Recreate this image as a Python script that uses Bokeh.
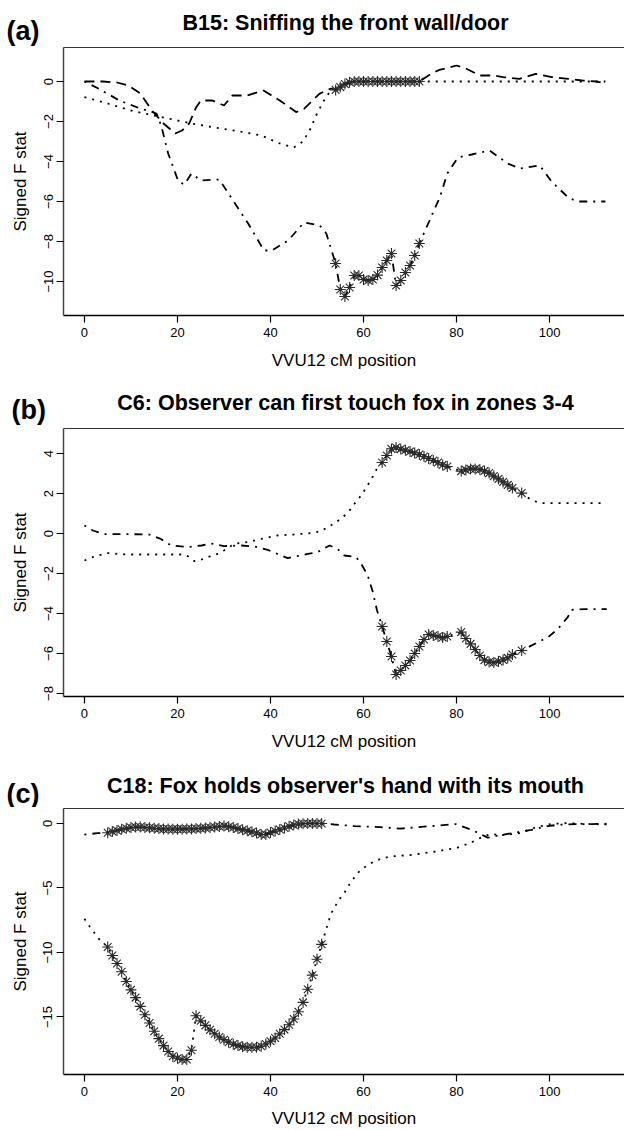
from bokeh.plotting import figure
from bokeh.models import Range1d, LinearAxis, FixedTicker
from bokeh.core.properties import value
from bokeh.layouts import column
from bokeh.embed import file_html
from bokeh.resources import INLINE

FONT = "Liberation Sans"

# ---------------- data ----------------
X_TICKS = [0, 20, 40, 60, 80, 100]
X_LABEL = "VVU12 cM position"
Y_LABEL = "Signed F stat"

TITLE_A = "B15: Sniffing the front wall/door"
TITLE_B = "C6: Observer can first touch fox in zones 3-4"
TITLE_C = "C18: Fox holds observer's hand with its mouth"

# Panel (a)
A_dash_x = [0, 4, 7, 9.5, 12, 14.5, 17, 19.5, 21, 22.5, 24, 25, 27.5, 30, 31.8, 35, 38.5, 42, 45.5, 47.2,
            50.5, 52, 53, 54, 55, 56, 57, 58, 59, 60, 61, 62, 63, 64, 65, 66, 67, 68, 69, 70, 71, 72,
            74.5, 76.3, 80, 82, 85, 88, 90, 93.5, 97, 100.5, 104, 107, 110, 112]
A_dash_y = [0, 0, -0.05, -0.2, -0.6, -1.45, -2.1, -2.6, -2.45, -2.1, -1.3, -0.95, -0.95, -1.2, -0.7, -0.7,
            -0.45, -0.95, -1.53, -1.37, -0.62, -0.45, -0.35, -0.42, -0.28, -0.13, -0.04, 0, 0, 0, 0, 0, 0,
            0, 0, 0, 0, 0, 0, 0, 0, 0, 0.38, 0.58, 0.8, 0.65, 0.3, 0.3, 0.22, 0.13, 0.38, 0.22, 0.13, 0.05,
            0.0, -0.08]
A_dash_stars = list(range(54, 73))

A_dot_x = [0, 5, 10, 15, 20, 23, 28, 33.5, 38, 42, 45, 47, 48.5, 50, 51.5, 52.5, 54.5, 56, 57, 112]
A_dot_y = [-0.78, -1.1, -1.45, -1.7, -1.95, -2.1, -2.3, -2.5, -2.7, -3.1, -3.3, -3.0, -2.4, -1.6, -0.95,
           -0.6, -0.3, -0.05, 0, 0]
A_dot_stars = []

A_dd_x = [0, 3, 7.5, 12, 15.5, 16.5, 18, 20.2, 21.5, 23, 25, 29, 31.8, 35.2, 38.6, 40.3, 43.8, 47.2, 50.6,
          52, 53.2, 54, 55, 56, 57, 58, 59, 60, 61, 62, 63, 64, 65, 66, 67, 68, 69, 70, 71, 72, 74.2, 75.2,
          76.4, 78, 80.3, 83.3, 87.1, 91, 93.6, 97.9, 100.4, 104, 106, 112]
A_dd_y = [0, -0.35, -0.95, -1.35, -1.6, -2.2, -3.6, -5.0, -5.15, -4.6, -4.95, -4.9, -5.9, -7.1, -8.45,
          -8.45, -7.95, -7.05, -7.2, -7.6, -8.5, -9.1, -10.4, -10.75, -10.3, -9.7, -9.7, -9.9, -9.95, -9.9,
          -9.68, -9.3, -8.95, -8.6, -10.2, -9.95, -9.55, -9.2, -8.7, -8.1, -6.95, -6.4, -5.8, -4.6, -3.8,
          -3.65, -3.45, -4.1, -4.35, -4.2, -5.0, -5.8, -6.0, -6.0]
A_dd_stars = list(range(54, 73))

# Panel (b)
B_dot_x = [0, 1.8, 3.5, 5, 9, 14, 21, 22.2, 23.6, 25, 26.5, 28.6, 30, 32.2, 35, 38, 41.5, 45, 48.7, 50.9,
           52.3, 53.3, 54.9, 56.2, 57.3, 58.4, 59.5, 60.4, 61.3, 62.2, 63, 64, 65, 66, 67, 68, 69, 70, 71,
           72, 73, 74, 75, 76, 77, 78, 81, 82, 83, 84, 85, 86, 87, 88, 89, 90, 91, 92, 94, 96, 98, 112]
B_dot_y = [-1.35, -1.18, -1.07, -0.98, -1.05, -1.05, -1.05, -1.13, -1.38, -1.32, -1.18, -1.02, -0.85,
           -0.52, -0.43, -0.27, -0.1, -0.05, 0.02, 0.12, 0.32, 0.45, 0.7, 0.95, 1.23, 1.6, 1.9, 2.23, 2.57,
           2.93, 3.3, 3.55, 3.9, 4.23, 4.3, 4.22, 4.16, 4.1, 4.03, 3.95, 3.85, 3.75, 3.65, 3.55, 3.43, 3.35,
           3.12, 3.18, 3.23, 3.23, 3.2, 3.13, 3.02, 2.87, 2.73, 2.58, 2.43, 2.27, 2.02, 1.68, 1.52, 1.52]
B_dot_stars = list(range(64, 79)) + list(range(81, 93)) + [94]

B_dd_x = [0, 1.8, 4.3, 9.3, 13.9, 16.4, 18.6, 22.2, 25.2, 27.2, 30, 33.7, 36.5, 39.4, 43.7, 48, 50.1,
          52.7, 54.4, 55.9, 58.4, 59.5, 60.9, 62, 62.9, 64, 65, 66, 67, 68, 69, 70, 71, 72, 73, 74, 75, 76,
          77, 78, 81, 82, 83, 84, 85, 86, 87, 88, 89, 90, 91, 92, 94, 97.8, 99.6, 101.8, 103.9, 104.7,
          107.6, 112.3]
B_dd_y = [0.4, 0.15, -0.03, -0.03, -0.05, -0.27, -0.6, -0.68, -0.6, -0.5, -0.63, -0.6, -0.65, -0.82,
          -1.23, -1.02, -0.93, -0.6, -0.77, -1.1, -1.18, -1.52, -2.1, -2.93, -3.85, -4.65, -5.4, -6.15,
          -7.05, -6.85, -6.6, -6.35, -6.0, -5.65, -5.3, -5.05, -5.1, -5.15, -5.2, -5.15, -4.93, -5.25,
          -5.52, -5.8, -6.1, -6.33, -6.43, -6.45, -6.4, -6.32, -6.22, -6.05, -5.85, -5.4, -5.2, -4.77,
          -4.18, -3.82, -3.78, -3.78]
B_dd_stars = list(range(64, 79)) + list(range(81, 93)) + [94]

# Panel (c)
C_dot_x = [0, 1, 2, 3, 4, 5, 6, 7, 8, 9, 10, 11, 12, 13, 14, 15, 16, 17, 18, 19, 20, 21, 22, 23, 24, 25,
           26, 27, 28, 29, 30, 31, 32, 33, 34, 35, 36, 37, 38, 39, 40, 41, 42, 43, 44, 45, 46, 47, 48, 49,
           50, 51, 52, 53, 54, 55, 56, 57, 58, 59, 60, 62, 64, 66, 70, 75, 80, 83, 85.8, 87.6, 89.3, 93.6,
           97, 100.4, 104, 107.3, 112.4]
C_dot_y = [-7.39, -7.93, -8.42, -8.91, -9.25, -9.58, -10.24, -10.86, -11.5, -12.25, -12.9, -13.5, -14.18,
           -14.83, -15.47, -16.11, -16.68, -17.22, -17.68, -18.04, -18.2, -18.3, -18.3, -17.58, -14.9,
           -15.3, -15.65, -16.0, -16.3, -16.55, -16.76, -16.96, -17.12, -17.22, -17.3, -17.35, -17.35,
           -17.35, -17.27, -17.1, -16.88, -16.63, -16.3, -15.98, -15.6, -15.16, -14.6, -13.87, -12.85,
           -11.76, -10.53, -9.37, -8.16, -7.0, -6.35, -5.8, -5.3, -4.7, -4.2, -3.75, -3.45, -3.0, -2.7,
           -2.55, -2.45, -2.2, -1.9, -1.5, -1.0, -0.8, -0.93, -0.75, -0.3, -0.03, 0.03, -0.03, -0.08]
C_dot_stars = list(range(5, 52))

C_dd_x = [0, 2.8, 5, 6, 7, 8, 9, 10, 11, 12, 13, 14, 15, 16, 17, 18, 19, 20, 21, 22, 23, 24, 25, 26, 27,
          28, 29, 30, 31, 32, 33, 34, 35, 36, 37, 38, 39, 40, 41, 42, 43, 44, 45, 46, 47, 48, 49, 50, 51,
          53.7, 58, 63.5, 67.8, 74.7, 79.8, 83.3, 86.7, 90.1, 96.1, 99.6, 102, 105.6, 109, 112.4]
C_dd_y = [-0.87, -0.75, -0.72, -0.62, -0.54, -0.45, -0.38, -0.32, -0.28, -0.28, -0.31, -0.34, -0.37, -0.4,
          -0.42, -0.43, -0.44, -0.44, -0.44, -0.43, -0.42, -0.4, -0.38, -0.35, -0.31, -0.27, -0.23, -0.2,
          -0.25, -0.32, -0.4, -0.48, -0.56, -0.65, -0.74, -0.85, -0.85, -0.7, -0.58, -0.47, -0.35, -0.22,
          -0.12, -0.05, -0.02, 0, 0, 0, 0, -0.08, -0.2, -0.28, -0.4, -0.2, -0.05, -0.5, -1.1, -0.86, -0.5,
          -0.2, -0.1, -0.05, -0.05, -0.02]
C_dd_stars = list(range(5, 52))

DASH = "10 6"
DOT = "2 6"
DOTDASH = "2 6 8 6"


def minus(v):
    return ("%g" % v).replace("-", "\u2212")


def make_header(letter, title, height, title_base, letter_x, letter_base):
    h = figure(width=624, height=height, x_range=Range1d(0, 624), y_range=Range1d(height, 0),
               output_backend="svg", toolbar_location=None, x_axis_type=None, y_axis_type=None,
               min_border=0, min_border_left=0, min_border_right=0, min_border_top=0,
               min_border_bottom=0)
    try:
        h.title = None
    except Exception:
        pass
    try:
        h.frame_align = False
    except Exception:
        pass
    h.outline_line_color = None
    h.xgrid.visible = False
    h.ygrid.visible = False
    h.text(x=[345], y=[title_base], text=[title], text_font=value(FONT), text_font_size="21.5px",
           text_font_style="bold", text_align="center", text_baseline="alphabetic", text_color="black")
    h.text(x=[letter_x], y=[letter_base], text=[letter], text_font=value(FONT), text_font_size="27px",
           text_font_style="bold", text_align="left", text_baseline="alphabetic", text_color="black")
    return h


def make_panel(height, bottom, y_range, y_ticks, series, xlab_standoff):
    p = figure(width=624, height=height, x_range=Range1d(-4.5, 116.1), y_range=Range1d(*y_range),
               output_backend="svg", toolbar_location=None,
               min_border_left=63, min_border_right=0, min_border_top=1, min_border_bottom=bottom)
    try:
        p.title = None
    except Exception:
        pass
    try:
        p.frame_align = False
    except Exception:
        pass
    p.outline_line_color = None
    p.xgrid.visible = False
    p.ygrid.visible = False

    xa = p.below[0]
    xa.ticker = FixedTicker(ticks=X_TICKS)
    xa.minor_tick_line_color = None
    xa.major_tick_in = 0
    xa.major_tick_out = 7
    xa.axis_line_color = "black"
    xa.axis_line_width = 1.5
    xa.major_tick_line_width = 1.2
    xa.major_label_text_font = FONT
    xa.major_label_text_font_size = "13px"
    xa.major_label_text_color = "black"
    xa.major_label_standoff = 5
    xa.axis_label = X_LABEL
    xa.axis_label_text_font = FONT
    xa.axis_label_text_font_size = "17px"
    xa.axis_label_text_font_style = "normal"
    xa.axis_label_standoff = xlab_standoff
    xa.axis_label_text_color = "black"

    ya = p.left[0]
    ya.ticker = FixedTicker(ticks=y_ticks)
    ya.major_label_overrides = {float(t): minus(t) for t in y_ticks}
    ya.minor_tick_line_color = None
    ya.major_tick_in = 0
    ya.major_tick_out = 7
    ya.axis_line_color = "#444444"
    ya.axis_line_width = 1.5
    ya.major_tick_line_width = 1.2
    ya.major_label_orientation = "vertical"
    ya.major_label_text_font = FONT
    ya.major_label_text_font_size = "13px"
    ya.major_label_text_color = "black"
    ya.major_label_standoff = 4
    ya.axis_label = Y_LABEL
    ya.axis_label_text_font = FONT
    ya.axis_label_text_font_size = "17px"
    ya.axis_label_text_font_style = "normal"
    ya.axis_label_standoff = 11
    ya.axis_label_text_color = "black"

    # top border of the box
    top_axis = LinearAxis(ticker=FixedTicker(ticks=[]), major_tick_out=0, major_tick_in=0,
                          minor_tick_line_color=None, major_label_standoff=0,
                          axis_line_color="#333333", axis_line_width=1.2)
    p.add_layout(top_axis, "above")

    for xs, ys, dash, stars in series:
        p.line(xs, ys, line_color="black", line_width=1.8, line_dash=dash)
        if stars:
            lookup = dict(zip(xs, ys))
            sx = [s for s in stars if s in lookup]
            sy = [lookup[s] for s in sx]
            p.scatter(sx, sy, marker="asterisk", size=11, line_color="#2a2a2a", line_width=1.1)
    return p


ha = make_header("(a)", TITLE_A, 46, 22, 6, 30)
pa = make_panel(334, 65, (-11.7, 1.7), [0, -2, -4, -6, -8, -10],
                [(A_dot_x, A_dot_y, DOT, A_dot_stars),
                 (A_dd_x, A_dd_y, DOTDASH, A_dd_stars)
                 , (A_dash_x, A_dash_y, DASH, A_dash_stars)], 11)
hb = make_header("(b)", TITLE_B, 47, 22, 11, 29)
pb = make_panel(333, 64, (-8.15, 5.25), [4, 2, 0, -2, -4, -6, -8],
                [(B_dot_x, B_dot_y, DOT, B_dot_stars),
                 (B_dd_x, B_dd_y, DOTDASH, B_dd_stars)], 11)
hc = make_header("(c)", TITLE_C, 47, 25, 6, 33)
pc = make_panel(323, 55, (-19.46, 1.16), [0, -5, -10, -15],
                [(C_dot_x, C_dot_y, DOT, C_dot_stars),
                 (C_dd_x, C_dd_y, DOTDASH, C_dd_stars)], 10)

layout = column(ha, pa, hb, pb, hc, pc, spacing=0)
open("out.html", "w").write(file_html(layout, INLINE))
